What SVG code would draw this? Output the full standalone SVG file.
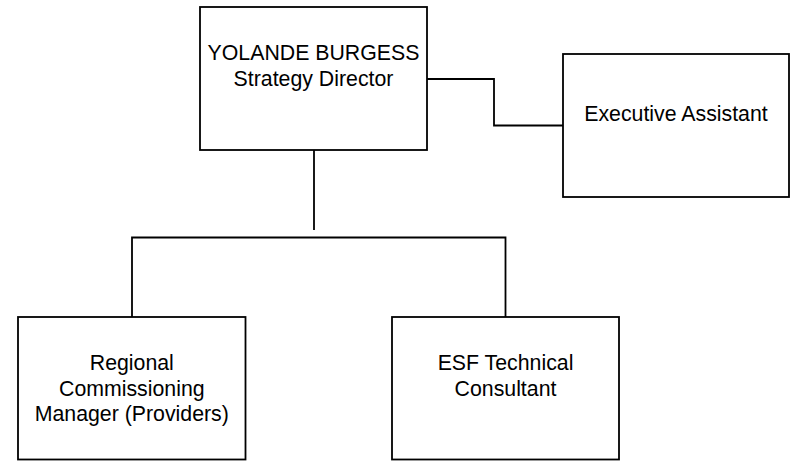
<svg xmlns="http://www.w3.org/2000/svg" width="792" height="461" viewBox="0 0 792 461">
<style>
.box{fill:#fff;stroke:#000;stroke-width:1.8}
.ln{fill:none;stroke:#000;stroke-width:1.8}
.t{font-family:"Liberation Sans",Arial,sans-serif;font-size:21.3px;fill:#000;text-anchor:middle}
</style>
<rect width="792" height="461" fill="#fff"/>
<g id="connectors">
<path class="ln" d="M427,79 H494 V125.5 H563"/>
<path class="ln" d="M314,150 V230"/>
<path class="ln" d="M132,317 V237.5 H505.5 V317"/>
</g>
<g id="director">
<rect class="box" x="200" y="7" width="227" height="143"/>
<text class="t" x="313.5" y="60">YOLANDE BURGESS</text>
<text class="t" x="313.5" y="85.5">Strategy Director</text>
</g>
<g id="exec-assistant">
<rect class="box" x="563" y="54" width="226" height="143"/>
<text class="t" x="676" y="120.5">Executive Assistant</text>
</g>
<g id="regional">
<rect class="box" x="18" y="317" width="227.5" height="142.5"/>
<text class="t" x="131.8" y="370">Regional</text>
<text class="t" x="131.8" y="395.7">Commissioning</text>
<text class="t" x="131.8" y="421">Manager (Providers)</text>
</g>
<g id="esf">
<rect class="box" x="392" y="317" width="227" height="142.5"/>
<text class="t" x="505.5" y="369.5">ESF Technical</text>
<text class="t" x="505.5" y="395.5">Consultant</text>
</g>
</svg>
